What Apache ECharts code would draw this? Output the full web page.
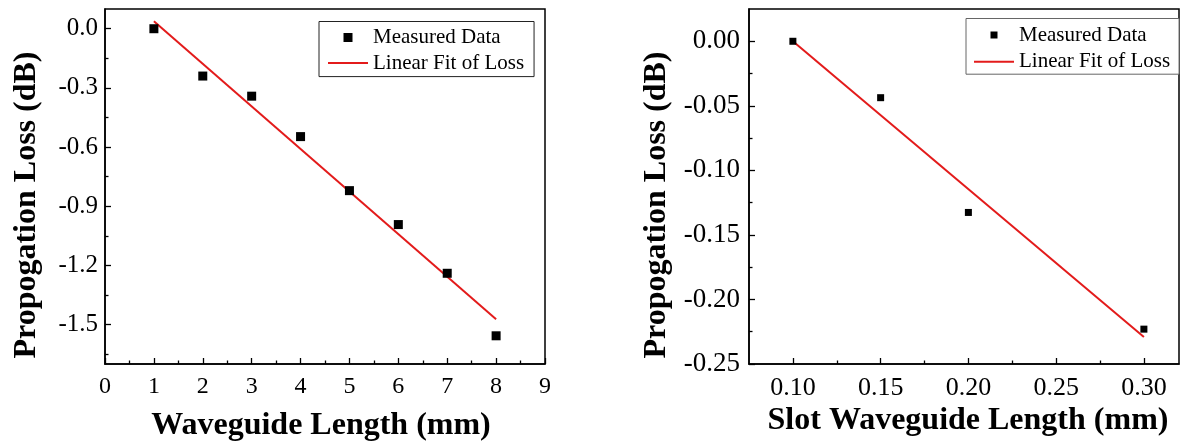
<!DOCTYPE html>
<html>
<head>
<meta charset="utf-8">
<script src="https://cdn.jsdelivr.net/npm/echarts@6/dist/echarts.min.js"></script>
<style>
html,body{margin:0;padding:0;background:#fff;}
#chart{width:1180px;height:441px;}
</style>
</head>
<body>
<div id="chart"></div>
<script>
// ---- Left panel data ----
const leftLength = [1, 2, 3, 4, 5, 6, 7, 8];
const leftLoss = [0.0, -0.24, -0.342, -0.547, -0.821, -0.993, -1.24, -1.557];
const leftFitX = [1, 8];
const leftFitY = [0.038, -1.473];
const leftXTicks = [0, 1, 2, 3, 4, 5, 6, 7, 8, 9];
const leftXMinor = [0.5, 1.5, 2.5, 3.5, 4.5, 5.5, 6.5, 7.5, 8.5];
const leftYTicks = [0.0, -0.3, -0.6, -0.9, -1.2, -1.5];
const leftYMinor = [-0.15, -0.45, -0.75, -1.05, -1.35, -1.65];

// ---- Right panel data ----
const rightLength = [0.10, 0.15, 0.20, 0.30];
const rightLoss = [0.0, -0.0437, -0.1326, -0.223];
const rightFitX = [0.10, 0.30];
const rightFitY = [0.0, -0.229];
const rightXTicks = [0.10, 0.15, 0.20, 0.25, 0.30];
const rightXMinor = [0.125, 0.175, 0.225, 0.275];
const rightYTicks = [0.00, -0.05, -0.10, -0.15, -0.20, -0.25];
const rightYMinor = [-0.025, -0.075, -0.125, -0.175, -0.225];

const seriesNames = ['Measured Data', 'Linear Fit of Loss'];
const xTitles = ['Waveguide Length (mm)', 'Slot Waveguide Length (mm)'];
const yTitle = 'Propogation Loss (dB)';

const FONT = 'Liberation Serif';
const RED = '#e31b1b';

function pairs(xs, ys) { return xs.map((x, i) => [x, ys[i]]); }

function mainAxis(gridIndex, min, max, ticks, digits, margin, fontSize, isY) {
  return {
    type: 'value', gridIndex, min, max,
    position: isY ? 'left' : 'bottom',
    axisLine: { show: true, onZero: false, lineStyle: { color: '#000', width: 1.5 } },
    axisTick: { show: true, inside: true, length: 6, customValues: ticks, lineStyle: { color: '#000', width: 1.3 } },
    axisLabel: { show: true, margin, customValues: ticks, formatter: v => Number(v).toFixed(digits),
                 fontFamily: FONT, fontSize, color: '#000' },
    splitLine: { show: false }
  };
}
function minorAxis(gridIndex, min, max, ticks, isY) {
  return {
    type: 'value', gridIndex, min, max,
    position: isY ? 'left' : 'bottom',
    axisLine: { show: false, onZero: false },
    axisTick: { show: true, inside: true, length: 3.5, customValues: ticks, lineStyle: { color: '#000', width: 1.3 } },
    axisLabel: { show: false },
    splitLine: { show: false }
  };
}

const squareIcon = 'path://M0 0H10V10H0Z';
const lineIcon = 'path://M0 0H40V2H0Z';

function legendFor(left, top, itemHeight, itemGap, padding, border) {
  return {
    left, top, orient: 'vertical',
    data: [{ name: seriesNames[0], icon: squareIcon }, { name: seriesNames[1], icon: lineIcon }],
    itemWidth: 40, itemHeight, itemGap, padding,
    borderColor: border, borderWidth: 1, backgroundColor: '#fff',
    textStyle: { fontFamily: FONT, fontSize: 21, color: '#000' },
    selectedMode: false
  };
}

function titleText(text, cx, cy, rotate) {
  return {
    type: 'text', x: cx, y: cy, rotation: rotate ? Math.PI / 2 : 0,
    style: { text, fontFamily: FONT, fontSize: 32, fontWeight: 'bold', fill: '#000', align: 'center', verticalAlign: 'middle' }
  };
}

const option = {
  backgroundColor: '#fff',
  animation: false,
  grid: [
    { left: 105, top: 9, width: 440, height: 355, show: true, borderColor: '#000', borderWidth: 1.5, backgroundColor: 'transparent' },
    { left: 749, top: 9, width: 430, height: 355, show: true, borderColor: '#000', borderWidth: 1.5, backgroundColor: 'transparent' }
  ],
  xAxis: [
    mainAxis(0, 0, 9, leftXTicks, 0, 11, 24, false),
    minorAxis(0, 0, 9, leftXMinor, false),
    mainAxis(1, 0.075, 0.32, rightXTicks, 2, 11, 26, false),
    minorAxis(1, 0.075, 0.32, rightXMinor, false)
  ],
  yAxis: [
    mainAxis(0, -1.7, 0.1, leftYTicks, 1, 7, 25, true),
    minorAxis(0, -1.7, 0.1, leftYMinor, true),
    mainAxis(1, -0.25, 0.025, rightYTicks, 2, 9, 27, true),
    minorAxis(1, -0.25, 0.025, rightYMinor, true)
  ],
  legend: [
    legendFor(319, 21.5, 9, 4.6, [5.5, 10, 3, 9], '#222'),
    legendFor(966, 18.5, 7, 5.7, [6, 9, 2, 8], '#666')
  ],
  graphic: [
    titleText(yTitle, 27, 205, true),
    titleText(yTitle, 657, 205, true),
    titleText(xTitles[0], 321, 426, false),
    titleText(xTitles[1], 968, 421, false)
  ],
  series: [
    {
      name: seriesNames[1], type: 'line', xAxisIndex: 0, yAxisIndex: 0,
      data: pairs(leftFitX, leftFitY), symbol: 'none', showSymbol: false,
      lineStyle: { color: RED, width: 2 }, itemStyle: { color: RED }, z: 3
    },
    {
      name: seriesNames[0], type: 'scatter', xAxisIndex: 0, yAxisIndex: 0,
      data: pairs(leftLength, leftLoss), symbol: 'rect', symbolSize: 9,
      itemStyle: { color: '#000', opacity: 1 }, z: 4
    },
    {
      name: seriesNames[1], type: 'line', xAxisIndex: 2, yAxisIndex: 2,
      data: pairs(rightFitX, rightFitY), symbol: 'none', showSymbol: false,
      lineStyle: { color: RED, width: 2 }, itemStyle: { color: RED }, z: 3
    },
    {
      name: seriesNames[0], type: 'scatter', xAxisIndex: 2, yAxisIndex: 2,
      data: pairs(rightLength, rightLoss), symbol: 'rect', symbolSize: 7,
      itemStyle: { color: '#000', opacity: 1 }, z: 4
    }
  ]
};

const chart = echarts.init(document.getElementById('chart'), null, { renderer: 'canvas' });
chart.setOption(option);
</script>
</body>
</html>
